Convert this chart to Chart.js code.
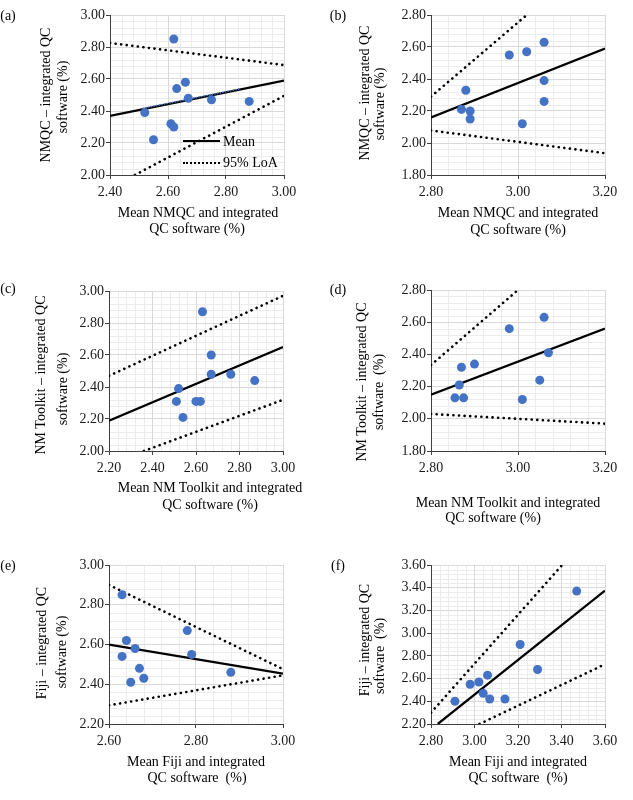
<!DOCTYPE html>
<html>
<head>
<meta charset="utf-8">
<title>Bland-Altman plots: NMQC, NM Toolkit, Fiji vs integrated QC software</title>
<script src="https://cdn.jsdelivr.net/npm/chart.js@4.4.1/dist/chart.umd.min.js"></script>
<style>
  body { margin: 0; background: #fff; }
  #fig { position: relative; width: 633px; height: 800px; overflow: hidden; }
  #fig canvas { position: absolute; }
  .cap { position: absolute; white-space: pre; font: 14px "Liberation Serif", "Times New Roman", serif; line-height: 16px; color: #000; }
  .swatch { position: absolute; width: 37px; height: 0; }
</style>
</head>
<body>
<div id="fig">
  <canvas id="pa" width="316" height="265" style="left:0;top:0"></canvas>
  <canvas id="pb" width="317" height="265" style="left:316px;top:0"></canvas>
  <canvas id="pc" width="316" height="265" style="left:0;top:265px"></canvas>
  <canvas id="pd" width="317" height="265" style="left:316px;top:265px"></canvas>
  <canvas id="pe" width="316" height="270" style="left:0;top:530px"></canvas>
  <canvas id="pf" width="317" height="270" style="left:316px;top:530px"></canvas>
  <div class="swatch" style="left:183px;top:140px;border-top:2.5px solid #000"></div>
  <div class="swatch" style="left:183px;top:162px;border-top:2.5px dotted #000"></div>
</div>
<script>
const SERIF = '"Liberation Serif", "Times New Roman", serif';

// (a) NMQC vs integrated QC software
const aMeanX = [2.62, 2.66, 2.63, 2.67, 2.75, 2.88, 2.52, 2.61, 2.62, 2.55];
const aDiff  = [2.85, 2.58, 2.54, 2.48, 2.47, 2.46, 2.39, 2.32, 2.30, 2.22];
const aBias  = [[2.40, 2.37], [3.00, 2.59]];
const aUpper = [[2.40, 2.825], [3.00, 2.687]];
const aLower = [[2.486, 2.00], [3.00, 2.495]];
const aTrend = [[2.515, 2.417], [2.847, 2.538]];
const aXTicks = [2.40, 2.60, 2.80, 3.00];
const aYTicks = [2.00, 2.20, 2.40, 2.60, 2.80, 3.00];

// (b) NMQC vs integrated QC software
const bMeanX = [3.06, 2.98, 3.02, 2.88, 3.06, 3.06, 2.87, 2.89, 2.89, 3.01];
const bDiff  = [2.63, 2.55, 2.57, 2.33, 2.39, 2.26, 2.21, 2.20, 2.15, 2.12];
const bBias  = [[2.80, 2.16], [3.20, 2.59]];
const bUpper = [[2.80, 2.29], [3.02, 2.80]];
const bLower = [[2.80, 2.078], [3.20, 1.936]];
const bXTicks = [2.80, 3.00, 3.20];
const bYTicks = [1.80, 2.00, 2.20, 2.40, 2.60, 2.80];

// (c) NM Toolkit vs integrated QC software
const cMeanX = [2.63, 2.67, 2.67, 2.76, 2.87, 2.52, 2.51, 2.60, 2.62, 2.54];
const cDiff  = [2.87, 2.60, 2.48, 2.48, 2.44, 2.39, 2.31, 2.31, 2.31, 2.21];
const cBias  = [[2.20, 2.19], [3.00, 2.65]];
const cUpper = [[2.20, 2.47], [3.00, 2.97]];
const cLower = [[2.36, 2.00], [3.00, 2.32]];
const cXTicks = [2.20, 2.40, 2.60, 2.80, 3.00];
const cYTicks = [2.00, 2.20, 2.40, 2.60, 2.80, 3.00];

// (d) NM Toolkit vs integrated QC software
const dMeanX = [3.06, 2.98, 3.07, 2.90, 2.87, 2.865, 2.855, 2.875, 3.05, 3.01];
const dDiff  = [2.63, 2.56, 2.41, 2.34, 2.32, 2.21, 2.13, 2.13, 2.24, 2.12];
const dBias  = [[2.80, 2.15], [3.20, 2.56]];
const dUpper = [[2.80, 2.334], [3.00, 2.80]];
const dLower = [[2.80, 2.03], [3.20, 1.97]];
const dXTicks = [2.80, 3.00, 3.20];
const dYTicks = [1.80, 2.00, 2.20, 2.40, 2.60, 2.80];

// (e) Fiji vs integrated QC software
const eMeanX = [2.63, 2.78, 2.64, 2.66, 2.63, 2.79, 2.67, 2.68, 2.65, 2.88];
const eDiff  = [2.85, 2.67, 2.62, 2.58, 2.54, 2.55, 2.48, 2.43, 2.41, 2.46];
const eBias  = [[2.60, 2.60], [3.00, 2.454]];
const eUpper = [[2.60, 2.90], [3.00, 2.476]];
const eLower = [[2.60, 2.294], [3.00, 2.445]];
const eXTicks = [2.60, 2.80, 3.00];
const eYTicks = [2.20, 2.40, 2.60, 2.80, 3.00];

// (f) Fiji vs integrated QC software
const fMeanX = [3.47, 3.21, 3.29, 3.06, 3.02, 2.98, 3.04, 3.07, 3.14, 2.91];
const fDiff  = [3.37, 2.90, 2.68, 2.63, 2.57, 2.55, 2.47, 2.42, 2.42, 2.40];
const fBias  = [[2.831, 2.20], [3.60, 3.375]];
const fUpper = [[2.80, 2.30], [3.403, 3.60]];
const fLower = [[3.023, 2.20], [3.60, 2.726]];
const fXTicks = [2.80, 3.00, 3.20, 3.40, 3.60];
const fYTicks = [2.20, 2.40, 2.60, 2.80, 3.00, 3.20, 3.40, 3.60];

// light minor gridlines, 5 per major step (drawn under the major grid)
const minorGrid = {
  id: 'minorGrid',
  beforeDraw(chart) {
    const ctx = chart.ctx, a = chart.chartArea;
    ctx.save();
    ctx.strokeStyle = '#ececec';
    ctx.lineWidth = 1;
    ['x', 'y'].forEach(function (k) {
      const s = chart.scales[k];
      const t = s.ticks.map(function (o) { return o.value; });
      const step = (t[1] - t[0]) / 5;
      for (let i = 0; i < t.length - 1; i++) {
        for (let j = 1; j < 5; j++) {
          const p = Math.round(s.getPixelForValue(t[i] + j * step)) + 0.5;
          ctx.beginPath();
          if (k === 'x') { ctx.moveTo(p, a.top); ctx.lineTo(p, a.bottom); }
          else { ctx.moveTo(a.left, p); ctx.lineTo(a.right, p); }
          ctx.stroke();
        }
      }
    });
    ctx.restore();
  }
};

function pts(xs, ys) {
  return xs.map(function (x, i) { return { x: x, y: ys[i] }; });
}

function line(seg, dash, width, color) {
  return {
    data: seg.map(function (q) { return { x: q[0], y: q[1] }; }),
    showLine: true,
    borderColor: color || '#000',
    borderWidth: width,
    borderDash: dash,
    borderCapStyle: dash.length ? 'round' : 'butt',
    pointRadius: 0,
    pointHoverRadius: 0
  };
}

function scale(ticks, size, horizontal) {
  return {
    type: 'linear',
    min: ticks[0],
    max: ticks[ticks.length - 1],
    afterBuildTicks: function (s) { s.ticks = ticks.map(function (v) { return { value: v }; }); },
    afterFit: function (s) { if (horizontal) s.height = size; else s.width = size; },
    ticks: {
      autoSkip: false, maxRotation: 0,
      padding: horizontal ? 5 : 1,
      color: '#1a1a1a',
      font: { family: SERIF, size: 14 },
      callback: function (v) { return Number(v).toFixed(2); }
    },
    grid: { color: '#d9d9d9', tickColor: '#404040', tickLength: 4 },
    border: { color: '#404040', width: 1 }
  };
}

function panel(id, p, box) {
  const dotted = [0.1, 5.5];
  const sets = [
    { data: pts(p.x, p.y), pointRadius: 4.5, pointHoverRadius: 4.5,
      backgroundColor: '#4472C4', borderColor: '#4472C4', borderWidth: 0 }
  ];
  if (p.trend) sets.push(line(p.trend, [0.1, 2.6], 1.6, '#4472C4'));
  sets.push(line(p.bias, [], 2.25));
  sets.push(line(p.upper, dotted, 2.6));
  sets.push(line(p.lower, dotted, 2.6));

  return new Chart(document.getElementById(id), {
    type: 'scatter',
    data: { datasets: sets },
    options: {
      responsive: false,
      animation: false,
      layout: { padding: { top: box.top, right: box.right, left: 0, bottom: 0 } },
      plugins: { legend: { display: false }, tooltip: { enabled: false } },
      scales: {
        x: scale(p.xTicks, box.xh, true),
        y: scale(p.yTicks, box.yw, false)
      }
    },
    plugins: [minorGrid]
  });
}

panel('pa', { x: aMeanX, y: aDiff, bias: aBias, upper: aUpper, lower: aLower, trend: aTrend, xTicks: aXTicks, yTicks: aYTicks },
  { top: 15, right: 32, yw: 110, xh: 90 });
panel('pb', { x: bMeanX, y: bDiff, bias: bBias, upper: bUpper, lower: bLower, xTicks: bXTicks, yTicks: bYTicks },
  { top: 15, right: 28, yw: 115, xh: 90 });
panel('pc', { x: cMeanX, y: cDiff, bias: cBias, upper: cUpper, lower: cLower, xTicks: cXTicks, yTicks: cYTicks },
  { top: 26, right: 33, yw: 109, xh: 79 });
panel('pd', { x: dMeanX, y: dDiff, bias: dBias, upper: dUpper, lower: dLower, xTicks: dXTicks, yTicks: dYTicks },
  { top: 25, right: 28, yw: 115, xh: 79 });
panel('pe', { x: eMeanX, y: eDiff, bias: eBias, upper: eUpper, lower: eLower, xTicks: eXTicks, yTicks: eYTicks },
  { top: 35, right: 33, yw: 109, xh: 76 });
panel('pf', { x: fMeanX, y: fDiff, bias: fBias, upper: fUpper, lower: fLower, xTicks: fXTicks, yTicks: fYTicks },
  { top: 35, right: 28, yw: 115, xh: 76 });

// text around the plots: [text, x, y, mode]  v = vertical, l = left anchored
const captions = [
  ['(a)', 8, 16], ['(b)', 338, 16], ['(c)', 8, 289], ['(d)', 338, 290], ['(e)', 8, 566], ['(f)', 338, 566],

  ['NMQC \u2013 integrated QC', 46, 95, 'v'], ['software (%)', 63, 97, 'v'],
  ['Mean NMQC and integrated', 198, 213], ['QC software (%)', 197, 229],
  ['Mean', 223, 142, 'l'], ['95% LoA', 223, 163, 'l'],

  ['NMQC \u2013 integrated QC', 365, 93, 'v'], ['software (%)', 380, 104, 'v'],
  ['Mean NMQC and integrated', 518, 213], ['QC software (%)', 518, 230],

  ['NM Toolkit \u2013 integrated QC', 41, 375, 'v'], ['software (%)', 63, 389, 'v'],
  ['Mean NM Toolkit and integrated', 210, 488], ['QC software (%)', 210, 505],

  ['NM Toolkit \u2013 integrated QC', 362, 382, 'v'], ['software  (%)', 379, 392, 'v'],
  ['Mean NM Toolkit and integrated', 508, 503], ['QC software (%)', 493, 518],

  ['Fiji \u2013 integrated QC', 42, 643, 'v'], ['software (%)', 62, 652, 'v'],
  ['Mean Fiji and integrated', 196, 762], ['QC software  (%)', 197, 778],

  ['Fiji \u2013 integrated QC', 365, 640, 'v'], ['software  (%)', 380, 656, 'v'],
  ['Mean Fiji and integrated', 518, 762], ['QC software  (%)', 518, 778]
];

const fig = document.getElementById('fig');
captions.forEach(function (c) {
  const el = document.createElement('div');
  el.className = 'cap';
  el.textContent = c[0];
  el.style.left = c[1] + 'px';
  el.style.top = c[2] + 'px';
  if (c[3] === 'v') el.style.transform = 'translate(-50%,-50%) rotate(-90deg)';
  else if (c[3] === 'l') el.style.transform = 'translate(0,-50%)';
  else el.style.transform = 'translate(-50%,-50%)';
  fig.appendChild(el);
});
</script>
</body>
</html>
